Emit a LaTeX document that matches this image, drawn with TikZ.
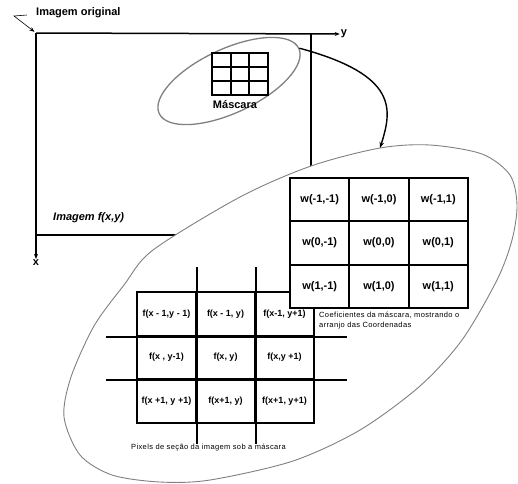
\documentclass[tikz,border=0pt]{standalone}
\usepackage{fontspec}
\setmainfont{Liberation Sans}
\newfontfamily\notefont[LetterSpace=5]{Liberation Sans}
\usetikzlibrary{shapes.geometric, arrows.meta}

\begin{document}
\begin{tikzpicture}[x=1pt, y=-1pt,
    wcell/.style={rectangle, draw, line width=2pt, fill=white, minimum width=59.3pt, minimum height=43.3pt, inner sep=0pt, font=\fontsize{11}{13}\selectfont\bfseries},
    fcell/.style={rectangle, draw, line width=1.9pt, minimum width=59pt, minimum height=43.7pt, inner sep=0pt, font=\fontsize{9}{11}\selectfont\bfseries},
    axis/.style={line width=1.5pt},
    title/.style={font=\fontsize{11}{13}\selectfont\bfseries, inner sep=1pt},
    note/.style={font=\notefont\fontsize{7.5}{10}\selectfont, align=left, inner sep=2pt},
    oval/.style={draw=black!50, line width=1pt},
    arrowtip/.style={-{Stealth[length=6pt, width=4.5pt]}}
]
\useasboundingbox (0,0) rectangle (518,483);

% Original image
\coordinate (origin) at (36,33);
\coordinate (ne) at (311,33);
\coordinate (sw) at (36,235);
\coordinate (se) at (311,235);
\coordinate (bend) at (14,16);
\node[title, anchor=west] (orig) at (35,13) {Imagem original};
\node[title] (ylab) at (344,34) {y};
\node[title] (xlab) at (36,263) {x};
\node[title, anchor=west, font=\fontsize{11}{13}\selectfont\bfseries\itshape] (img) at (52,218) {Imagem f(x,y)};

\draw[axis, -{Stealth[length=5pt, width=4pt]}] (origin) -- (ylab);
\draw[axis, -{Stealth[length=5pt, width=4pt]}] (origin) -- (xlab);
\draw[axis] (ne) -- (se) -- (sw);
\draw[line width=0.6pt, -{Stealth[length=5pt, width=4pt]}, shorten >=2pt] ([xshift=-8pt, yshift=-2pt]orig.west) -- (bend) -- (origin);

% Section under the mask
\draw[oval, fill=white, line width=0.9pt] plot[smooth cycle] coordinates {
    (153,250) (240,197) (311,166) (380,148) (430,145) (482,154) (510,175)
    (517,205) (512,240) (497,280) (462,340) (420,386) (360,430) (293,461)
    (210,480) (160,482) (112,475) (80,455) (64,417) (71,377) (94,326) (124,285)};
\coordinate (ovaltop) at (380,148);

% Image pixels
\node[fcell] (f11) at (166.5,313.8) {f(x - 1,y - 1)};
\node[fcell] (f12) at (225.5,313.8) {f(x - 1, y)};
\node[fcell] (f13) at (284.5,313.8) {f(x-1, y+1)};
\node[fcell] (f21) at (166.5,357.5) {f(x , y-1)};
\node[fcell] (f22) at (225.5,357.5) {f(x, y)};
\node[fcell] (f23) at (284.5,357.5) {f(x,y +1)};
\node[fcell] (f31) at (166.5,401.2) {f(x +1, y +1)};
\node[fcell] (f32) at (225.5,401.2) {f(x+1, y)};
\node[fcell] (f33) at (284.5,401.2) {f(x+1, y+1)};
\draw[line width=1.9pt] ([yshift=24pt]f11.north east) -- ([yshift=-20pt]f31.south east);
\draw[line width=1.9pt] ([yshift=24pt]f12.north east) -- ([yshift=-20pt]f32.south east);
\draw[line width=1.9pt] ([xshift=-30pt]f11.south west) -- ([xshift=32pt]f13.south east);
\draw[line width=1.9pt] ([xshift=-30pt]f21.south west) -- ([xshift=32pt]f23.south east);
\node[note, anchor=west] (fnote) at (129,448) {Pixels de seção da imagem sob a máscara};

% Mask coefficients
\node[wcell] (w11) at (319.7,199.7) {w(-1,-1)};
\node[wcell] (w12) at (379,199.7) {w(-1,0)};
\node[wcell] (w13) at (438.3,199.7) {w(-1,1)};
\node[wcell] (w21) at (319.7,243) {w(0,-1)};
\node[wcell] (w22) at (379,243) {w(0,0)};
\node[wcell] (w23) at (438.3,243) {w(0,1)};
\node[wcell] (w31) at (319.7,286.3) {w(1,-1)};
\node[wcell] (w32) at (379,286.3) {w(1,0)};
\node[wcell] (w33) at (438.3,286.3) {w(1,1)};
\node[note, anchor=west] (wnote) at (317,321) {Coeficientes da máscara, mostrando o\\arranjo das Coordenadas};

% Mask
\node[oval, ellipse, rotate=25, minimum width=154pt, minimum height=64pt, inner sep=0pt, line width=1.3pt] (lens) at (229,81) {};
\draw[line width=1.7pt] (212,53) rectangle (268,95)
    (230.7,53) -- (230.7,95) (249.3,53) -- (249.3,95)
    (212,67) -- (268,67) (212,81) -- (268,81);
\node[title] (masklab) at (235,105) {Máscara};

\draw[line width=1.4pt, arrowtip] (lens.east) .. controls +(100,27) and +(12,-38) .. (ovaltop);
\end{tikzpicture}
\end{document}
